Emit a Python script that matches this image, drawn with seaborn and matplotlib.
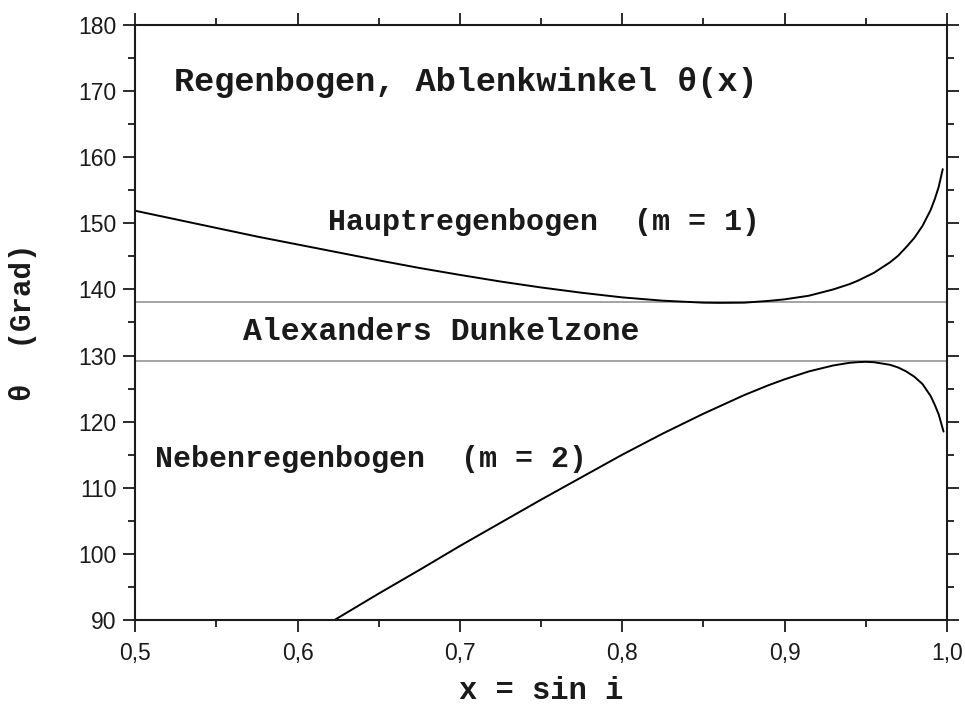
import matplotlib
matplotlib.use("Agg")
import matplotlib.pyplot as plt
from matplotlib.ticker import MultipleLocator, FuncFormatter
import seaborn as sns
import pandas as pd

# ---- data ----
x_haupt = [0.50, 0.525, 0.55, 0.575, 0.60, 0.625, 0.65, 0.675, 0.70, 0.725, 0.75,
           0.775, 0.80, 0.825, 0.85, 0.86, 0.875, 0.89, 0.90, 0.915, 0.93, 0.94, 0.945,
           0.95, 0.955, 0.96, 0.965, 0.97, 0.975, 0.98, 0.985, 0.99, 0.9925, 0.995, 0.9975]
theta_haupt = [151.9, 150.6, 149.3, 148.0, 146.8, 145.6, 144.4, 143.25, 142.2, 141.2, 140.3,
               139.5, 138.8, 138.3, 138.0, 137.97, 138.0, 138.26, 138.5, 139.05, 140.0, 140.8, 141.3,
               141.9, 142.5, 143.3, 144.1, 145.1, 146.4, 147.8, 149.6, 152.0, 153.6, 155.5, 158.2]

x_neben = [0.62, 0.65, 0.675, 0.70, 0.725, 0.75, 0.775, 0.80, 0.825, 0.85, 0.875,
           0.89, 0.90, 0.915, 0.93, 0.94, 0.945, 0.95, 0.955, 0.96, 0.965, 0.97,
           0.975, 0.98, 0.985, 0.99, 0.9925, 0.995, 0.998]
theta_neben = [89.6, 94.0, 97.56, 101.2, 104.7, 108.2, 111.6, 115.0, 118.2, 121.2, 124.0,
               125.5, 126.4, 127.6, 128.5, 128.9, 129.0, 129.05, 129.0, 128.8, 128.6, 128.2,
               127.6, 126.8, 125.7, 123.9, 122.6, 121.1, 118.5]

grenze_oben = 138.1
grenze_unten = 129.2

x_ticks = [0.5, 0.6, 0.7, 0.8, 0.9, 1.0]
y_ticks = [90, 100, 110, 120, 130, 140, 150, 160, 170, 180]

titel = "Regenbogen, Ablenkwinkel θ(x)"
label_haupt = "Hauptregenbogen  (m = 1)"
label_zone = "Alexanders Dunkelzone"
label_neben = "Nebenregenbogen  (m = 2)"
x_label = "x = sin i"
y_label = "θ  (Grad)"

# ---- figure ----
sns.set_theme(style="ticks")
plt.rcParams["font.family"] = ["Liberation Sans", "DejaVu Sans"]

fig = plt.figure(figsize=(9.65, 7.06), dpi=100)
fig.patch.set_facecolor("white")
ax = fig.add_axes([135.3 / 965, 1 - 620 / 706, (946.8 - 135.3) / 965, 595 / 706])
ax.set_facecolor("white")

df_h = pd.DataFrame({"x": x_haupt, "theta": theta_haupt})
df_n = pd.DataFrame({"x": x_neben, "theta": theta_neben})
sns.lineplot(data=df_h, x="x", y="theta", ax=ax, color="black", lw=1.4, estimator=None)
sns.lineplot(data=df_n, x="x", y="theta", ax=ax, color="black", lw=1.4, estimator=None)

ax.axhline(grenze_oben, color="#8c8c8c", lw=1.1, zorder=1)
ax.axhline(grenze_unten, color="#8c8c8c", lw=1.1, zorder=1)

ax.set_xlim(0.5, 1.0)
ax.set_ylim(90, 180)
ax.set_xticks(x_ticks)
ax.set_yticks(y_ticks)
ax.xaxis.set_minor_locator(MultipleLocator(0.05))
ax.yaxis.set_minor_locator(MultipleLocator(5))
ax.xaxis.set_major_formatter(FuncFormatter(lambda v, p: f"{v:.1f}".replace(".", ",")))

for s in ax.spines.values():
    s.set_visible(True)
    s.set_linewidth(1.5)
    s.set_color("#1a1a1a")

ax.tick_params(which="both", direction="out", top=True, right=True,
               labeltop=False, labelright=False, color="#1a1a1a", width=1.3)
ax.tick_params(which="major", length=8.5)
ax.tick_params(which="minor", length=5)
ax.tick_params(axis="y", which="major", pad=5, labelsize=16.5, labelcolor="#1a1a1a")
ax.tick_params(axis="x", which="major", pad=7, labelsize=16.5, labelcolor="#1a1a1a")

mono = ["Liberation Mono", "DejaVu Sans Mono"]
ax.set_xlabel(x_label, family=mono, fontweight="bold", fontsize=22, color="#1a1a1a")
ax.xaxis.set_label_coords(0.5, (620 - 699) / 595)
ax.xaxis.label.set_va("baseline")
ax.set_ylabel(y_label, family=mono, fontweight="bold", fontsize=21, color="#1a1a1a")
ax.yaxis.set_label_coords((23.5 - 135.3) / 811.5, 0.5)
ax.yaxis.label.set_va("center")

ax.text(0.524, 170.06, titel, family=mono, fontweight="bold", fontsize=24.2,
        ha="left", va="baseline", color="#1a1a1a")
ax.text(0.619, 149.0, label_haupt, family=mono, fontweight="bold", fontsize=21.6,
        ha="left", va="baseline", color="#1a1a1a")
ax.text(0.5665, 132.35, label_zone, family=mono, fontweight="bold", fontsize=22.7,
        ha="left", va="baseline", color="#1a1a1a")
ax.text(0.5121, 113.2, label_neben, family=mono, fontweight="bold", fontsize=21.6,
        ha="left", va="baseline", color="#1a1a1a")

fig.savefig("out.png", dpi=100, facecolor="white")
